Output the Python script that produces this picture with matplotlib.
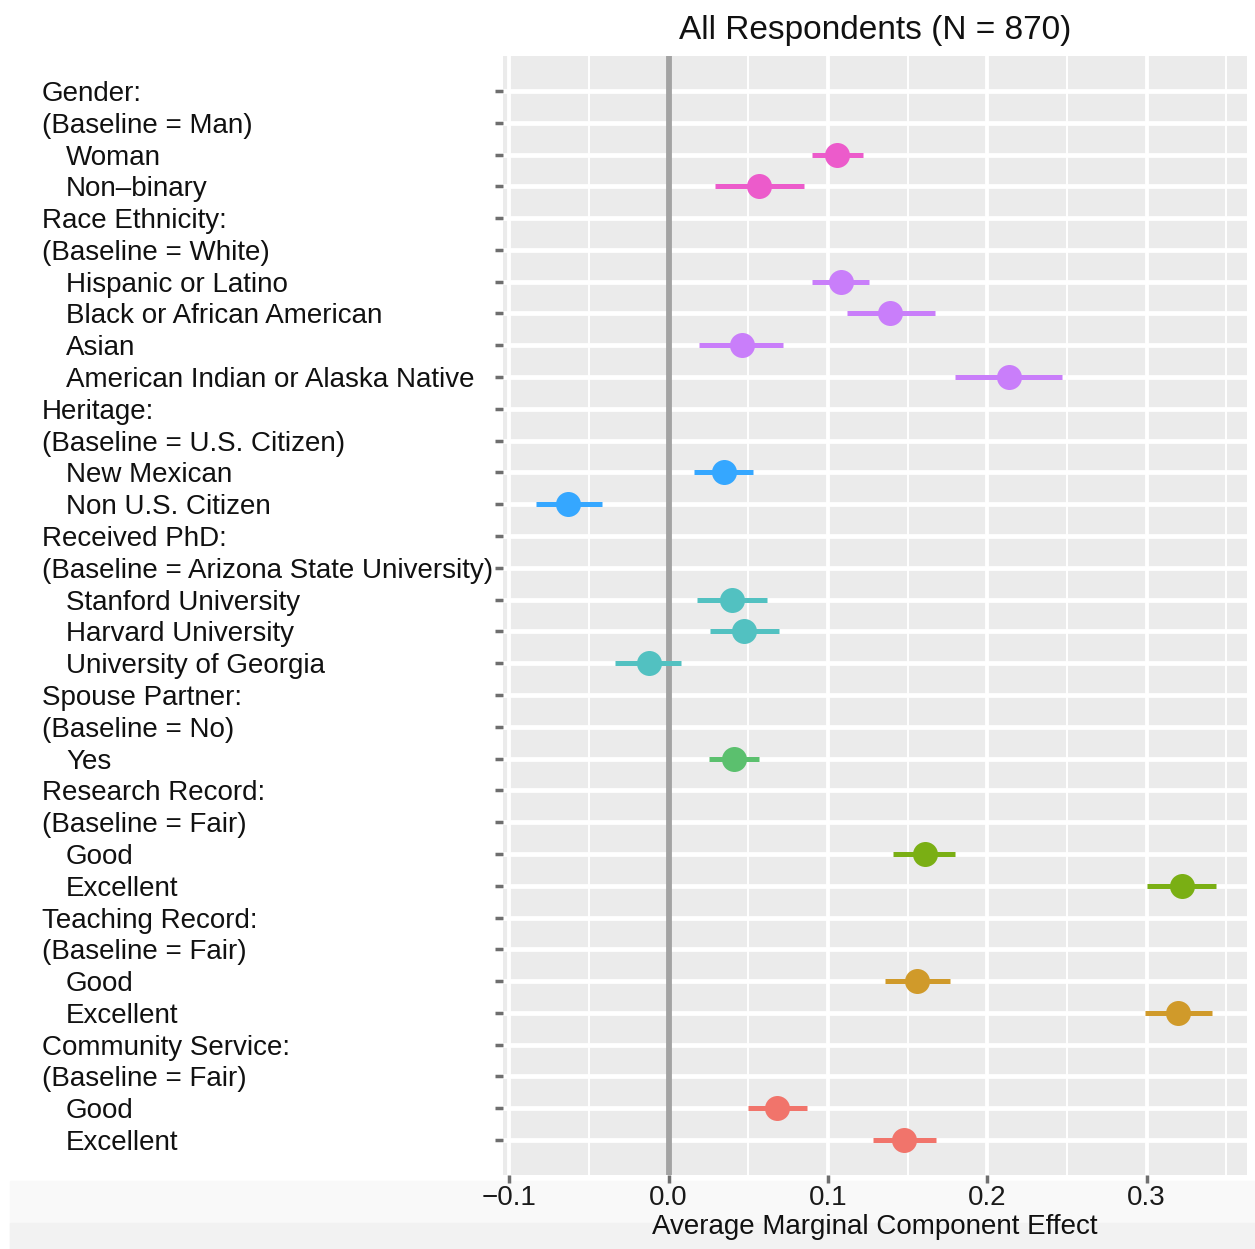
import numpy as np
import matplotlib.pyplot as plt
import matplotlib.transforms as mtransforms
from matplotlib.patches import Rectangle

plt.rcParams['font.family'] = ['Liberation Sans', 'DejaVu Sans']

# Row labels, top to bottom (indent marks attribute levels)
labels = [
    "Gender:", "(Baseline = Man)", "Woman", "Non\u2013binary",
    "Race Ethnicity:", "(Baseline = White)", "Hispanic or Latino",
    "Black or African American", "Asian", "American Indian or Alaska Native",
    "Heritage:", "(Baseline = U.S. Citizen)", "New Mexican", "Non U.S. Citizen",
    "Received PhD:", "(Baseline = Arizona State University)", "Stanford University",
    "Harvard University", "University of Georgia",
    "Spouse Partner:", "(Baseline = No)", "Yes",
    "Research Record:", "(Baseline = Fair)", "Good", "Excellent",
    "Teaching Record:", "(Baseline = Fair)", "Good", "Excellent",
    "Community Service:", "(Baseline = Fair)", "Good", "Excellent",
]
indented = [False, False, True, True,
            False, False, True, True, True, True,
            False, False, True, True,
            False, False, True, True, True,
            False, False, True,
            False, False, True, True,
            False, False, True, True,
            False, False, True, True]

nan = np.nan
amce = [nan, nan, 0.1055, 0.057,
        nan, nan, 0.108, 0.139, 0.046, 0.2135,
        nan, nan, 0.0345, -0.063,
        nan, nan, 0.0396, 0.047, -0.0126,
        nan, nan, 0.041,
        nan, nan, 0.161, 0.322,
        nan, nan, 0.156, 0.320,
        nan, nan, 0.068, 0.1475]
lower = [nan, nan, 0.090, 0.029,
         nan, nan, 0.090, 0.112, 0.019, 0.180,
         nan, nan, 0.016, -0.083,
         nan, nan, 0.0176, 0.026, -0.034,
         nan, nan, 0.025,
         nan, nan, 0.141, 0.300,
         nan, nan, 0.136, 0.299,
         nan, nan, 0.050, 0.128]
upper = [nan, nan, 0.122, 0.085,
         nan, nan, 0.126, 0.167, 0.072, 0.247,
         nan, nan, 0.053, -0.042,
         nan, nan, 0.0615, 0.069, 0.008,
         nan, nan, 0.057,
         nan, nan, 0.180, 0.3435,
         nan, nan, 0.1765, 0.341,
         nan, nan, 0.087, 0.168]
group = ["Gender"] * 4 + ["Race"] * 6 + ["Heritage"] * 4 + ["PhD"] * 5 + \
        ["Spouse"] * 3 + ["Research"] * 4 + ["Teaching"] * 4 + ["Community"] * 4

colors = {
    "Gender": "#EC5BCB", "Race": "#C97EFA", "Heritage": "#35A7FF",
    "PhD": "#52C1C1", "Spouse": "#5BC06E", "Research": "#7AAF14",
    "Teaching": "#D09A2A", "Community": "#F1746B",
}

n = len(labels)
ypos = np.arange(n, 0, -1)

fig = plt.figure(figsize=(12.55, 12.49), dpi=100)
# light band at the bottom of the screenshot
fig.patches.append(Rectangle((10 / 1255, 0), 1245 / 1255, 68 / 1249,
                             transform=fig.transFigure, color="#F9F9F9", zorder=-5))
fig.patches.append(Rectangle((10 / 1255, 0), 1245 / 1255, 26 / 1249,
                             transform=fig.transFigure, color="#F2F2F2", zorder=-4))

ax = fig.add_axes([503 / 1255, 1 - 1175 / 1249, 744 / 1255, 1119 / 1249])
ax.set_facecolor("#EBEBEB")
for s in ax.spines.values():
    s.set_visible(False)

ax.set_xlim(-0.104, 0.363)
ax.set_ylim(-0.1, n + 1.1)

major = [-0.1, 0.0, 0.1, 0.2, 0.3]
minor = [-0.05, 0.05, 0.15, 0.25, 0.35]
for x in minor:
    ax.axvline(x, color="white", lw=1.4, zorder=1)
for x in major:
    ax.axvline(x, color="white", lw=2.8, zorder=1)
for y in ypos:
    ax.axhline(y, color="white", lw=3.4, zorder=1)

ax.axvline(0, color="#A3A3A3", lw=4.2, zorder=2)

for y, est, lo, hi, g in zip(ypos, amce, lower, upper, group):
    if np.isnan(est):
        continue
    c = colors[g]
    ax.hlines(y, lo, hi, color=c, lw=3.6, zorder=3)
    ax.plot(est, y, "o", color=c, ms=18, mew=0, zorder=4)

ax.set_xticks(major)
ax.set_xticklabels(["\u22120.1", "0.0", "0.1", "0.2", "0.3"], fontsize=20, color="#1A1A1A")
ax.set_yticks(ypos)
ax.set_yticklabels([])
ax.tick_params(axis="both", length=6, width=2.5, color="#6E6E6E")
ax.tick_params(axis="x", pad=1)

trans = mtransforms.blended_transform_factory(fig.transFigure, ax.transData)
for y, lab, ind in zip(ypos, labels, indented):
    x0 = (66 if ind else 42) / 1255
    ax.text(x0, y, lab, transform=trans, ha="left", va="center_baseline",
            fontsize=20, color="#111111")

ax.set_xlabel("Average Marginal Component Effect", fontsize=20, color="#111111", labelpad=2)
ax.set_title("All Respondents (N = 870)", fontsize=24, color="#111111", pad=12)

fig.savefig("out.png", dpi=100)
